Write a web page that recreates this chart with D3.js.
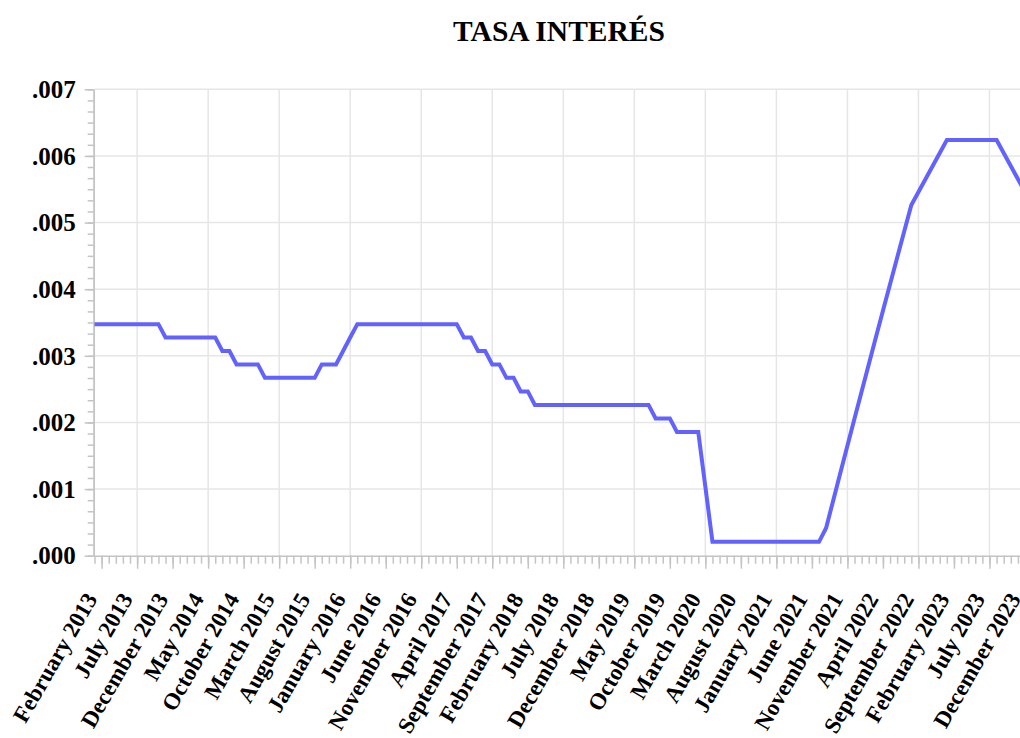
<!DOCTYPE html>
<html>
<head>
<meta charset="utf-8">
<script src="https://cdn.jsdelivr.net/npm/d3@7"></script>
<style>
  body { margin: 0; background: #fff; }
  text { font-family: "Liberation Serif", "Times New Roman", serif; font-weight: bold; }
</style>
</head>
<body>
<script>
// monthly series, Feb 2013 .. Jan 2024 (132 months)
var rates = [
  0.003475, 0.003475, 0.003475, 0.003475, 0.003475, 0.003475, 0.003475, 0.003475, 0.003475, 0.003475,
  0.003274, 0.003274, 0.003274, 0.003274, 0.003274, 0.003274, 0.003274, 0.003274,
  0.003073, 0.003073,
  0.002871, 0.002871, 0.002871, 0.002871,
  0.002669, 0.002669, 0.002669, 0.002669, 0.002669, 0.002669, 0.002669, 0.002669,
  0.002871, 0.002871, 0.002871,
  0.003073, 0.003274,
  0.003475, 0.003475, 0.003475, 0.003475, 0.003475, 0.003475, 0.003475, 0.003475,
  0.003475, 0.003475, 0.003475, 0.003475, 0.003475, 0.003475, 0.003475,
  0.003274, 0.003274,
  0.003073, 0.003073,
  0.002871, 0.002871,
  0.002669, 0.002669,
  0.002466, 0.002466,
  0.002263, 0.002263, 0.002263, 0.002263, 0.002263, 0.002263, 0.002263, 0.002263, 0.002263,
  0.002263, 0.002263, 0.002263, 0.002263, 0.002263, 0.002263, 0.002263, 0.002263,
  0.002060, 0.002060, 0.002060,
  0.001856, 0.001856, 0.001856, 0.001856,
  0.001036,
  0.000208, 0.000208, 0.000208, 0.000208, 0.000208, 0.000208, 0.000208, 0.000208,
  0.000208, 0.000208, 0.000208, 0.000208, 0.000208, 0.000208, 0.000208, 0.000208,
  0.000416, 0.000830, 0.001241, 0.001652, 0.002060, 0.002466, 0.002871, 0.003274,
  0.003675, 0.004074, 0.004472, 0.004868, 0.005262, 0.005458, 0.005654, 0.005850, 0.006045,
  0.006240, 0.006240, 0.006240, 0.006240, 0.006240, 0.006240, 0.006240, 0.006240,
  0.006045, 0.005850, 0.005654, 0.005458
];

var xTickLabels = ["February 2013", "July 2013", "December 2013", "May 2014", "October 2014",
  "March 2015", "August 2015", "January 2016", "June 2016", "November 2016", "April 2017",
  "September 2017", "February 2018", "July 2018", "December 2018", "May 2019", "October 2019",
  "March 2020", "August 2020", "January 2021", "June 2021", "November 2021", "April 2022",
  "September 2022", "February 2023", "July 2023", "December 2023"];

var yTicks = [0, 0.001, 0.002, 0.003, 0.004, 0.005, 0.006, 0.007];
var yTickLabels = [".000", ".001", ".002", ".003", ".004", ".005", ".006", ".007"];

var w = 1020, h = 738;
var plotLeft = 94.5, plotTop = 89.3, plotBottom = 555.7;
var step = 7.103;

var months = d3.range(rates.length);

var x = d3.scalePoint()
  .domain(months)
  .range([plotLeft, plotLeft + step * (rates.length - 1)]);

var y = d3.scaleLinear()
  .domain([0, 0.007])
  .range([plotBottom, plotTop]);

var svg = d3.select("body").append("svg")
  .attr("width", w)
  .attr("height", h);

// title
svg.append("text")
  .attr("x", 559)
  .attr("y", 41)
  .attr("text-anchor", "middle")
  .style("font-size", "29.5px")
  .text("TASA INTERÉS");

// grid
svg.append("g").selectAll("line")
  .data(months.filter(function(i) { return i % 10 === 6; }))
  .enter().append("line")
  .attr("x1", function(d) { return x(d); })
  .attr("x2", function(d) { return x(d); })
  .attr("y1", plotTop).attr("y2", plotBottom)
  .attr("stroke", "#e6e6e6").attr("stroke-width", 1.5);

svg.append("g").selectAll("line")
  .data(yTicks.slice(1))
  .enter().append("line")
  .attr("x1", plotLeft).attr("x2", w)
  .attr("y1", function(d) { return y(d); })
  .attr("y2", function(d) { return y(d); })
  .attr("stroke", "#e6e6e6").attr("stroke-width", 1.5);

var axisColor = "#c4c4c4";

// x axis: minor ticks every month, longer ticks every 5
var xMinor = svg.append("g")
  .attr("transform", "translate(0," + plotBottom + ")")
  .call(d3.axisBottom(x).tickValues(months).tickSize(8).tickSizeOuter(0).tickFormat(""));
var xMajor = svg.append("g")
  .attr("transform", "translate(0," + plotBottom + ")")
  .call(d3.axisBottom(x).tickValues(months.filter(function(i) { return i % 5 === 1; }))
    .tickSize(13).tickSizeOuter(0).tickFormat(""));
xMajor.select(".domain").remove();

var xLab = svg.append("g")
  .attr("transform", "translate(0," + plotBottom + ")")
  .call(d3.axisBottom(x).tickValues(months.filter(function(i) { return i % 5 === 0; }))
    .tickSize(0).tickFormat(function(d) { return xTickLabels[d / 5]; }));
xLab.select(".domain").remove();
xLab.selectAll("text")
  .attr("x", 0).attr("y", 0).attr("dy", 0)
  .attr("text-anchor", "end")
  .attr("transform", "translate(3,43) rotate(-60)")
  .style("font-size", "23px")
  .style("fill", "#000");

// y axis
var yMinor = svg.append("g")
  .attr("transform", "translate(" + (plotLeft - 0.8) + ",0)")
  .call(d3.axisLeft(y).tickValues(d3.range(0, 43).map(function(i) { return i * 0.001 / 6; }))
    .tickSize(6).tickSizeOuter(0).tickFormat(""));
var yAxis = svg.append("g")
  .attr("transform", "translate(" + (plotLeft - 0.8) + ",0)")
  .call(d3.axisLeft(y).tickValues(yTicks).tickSize(9).tickSizeOuter(0)
    .tickFormat(function(d, i) { return yTickLabels[i]; }));
yAxis.selectAll("text")
  .attr("x", -18)
  .attr("dy", "0.33em")
  .style("font-size", "25px")
  .style("fill", "#000");

svg.selectAll(".domain, .tick line")
  .attr("stroke", axisColor)
  .attr("stroke-width", 1.5);

// series
var line = d3.line()
  .x(function(d, i) { return x(i); })
  .y(function(d) { return y(d); });

svg.append("path")
  .datum(rates)
  .attr("d", line)
  .attr("fill", "none")
  .attr("stroke", "#6262ff")
  .attr("stroke-width", 4);
</script>
</body>
</html>
